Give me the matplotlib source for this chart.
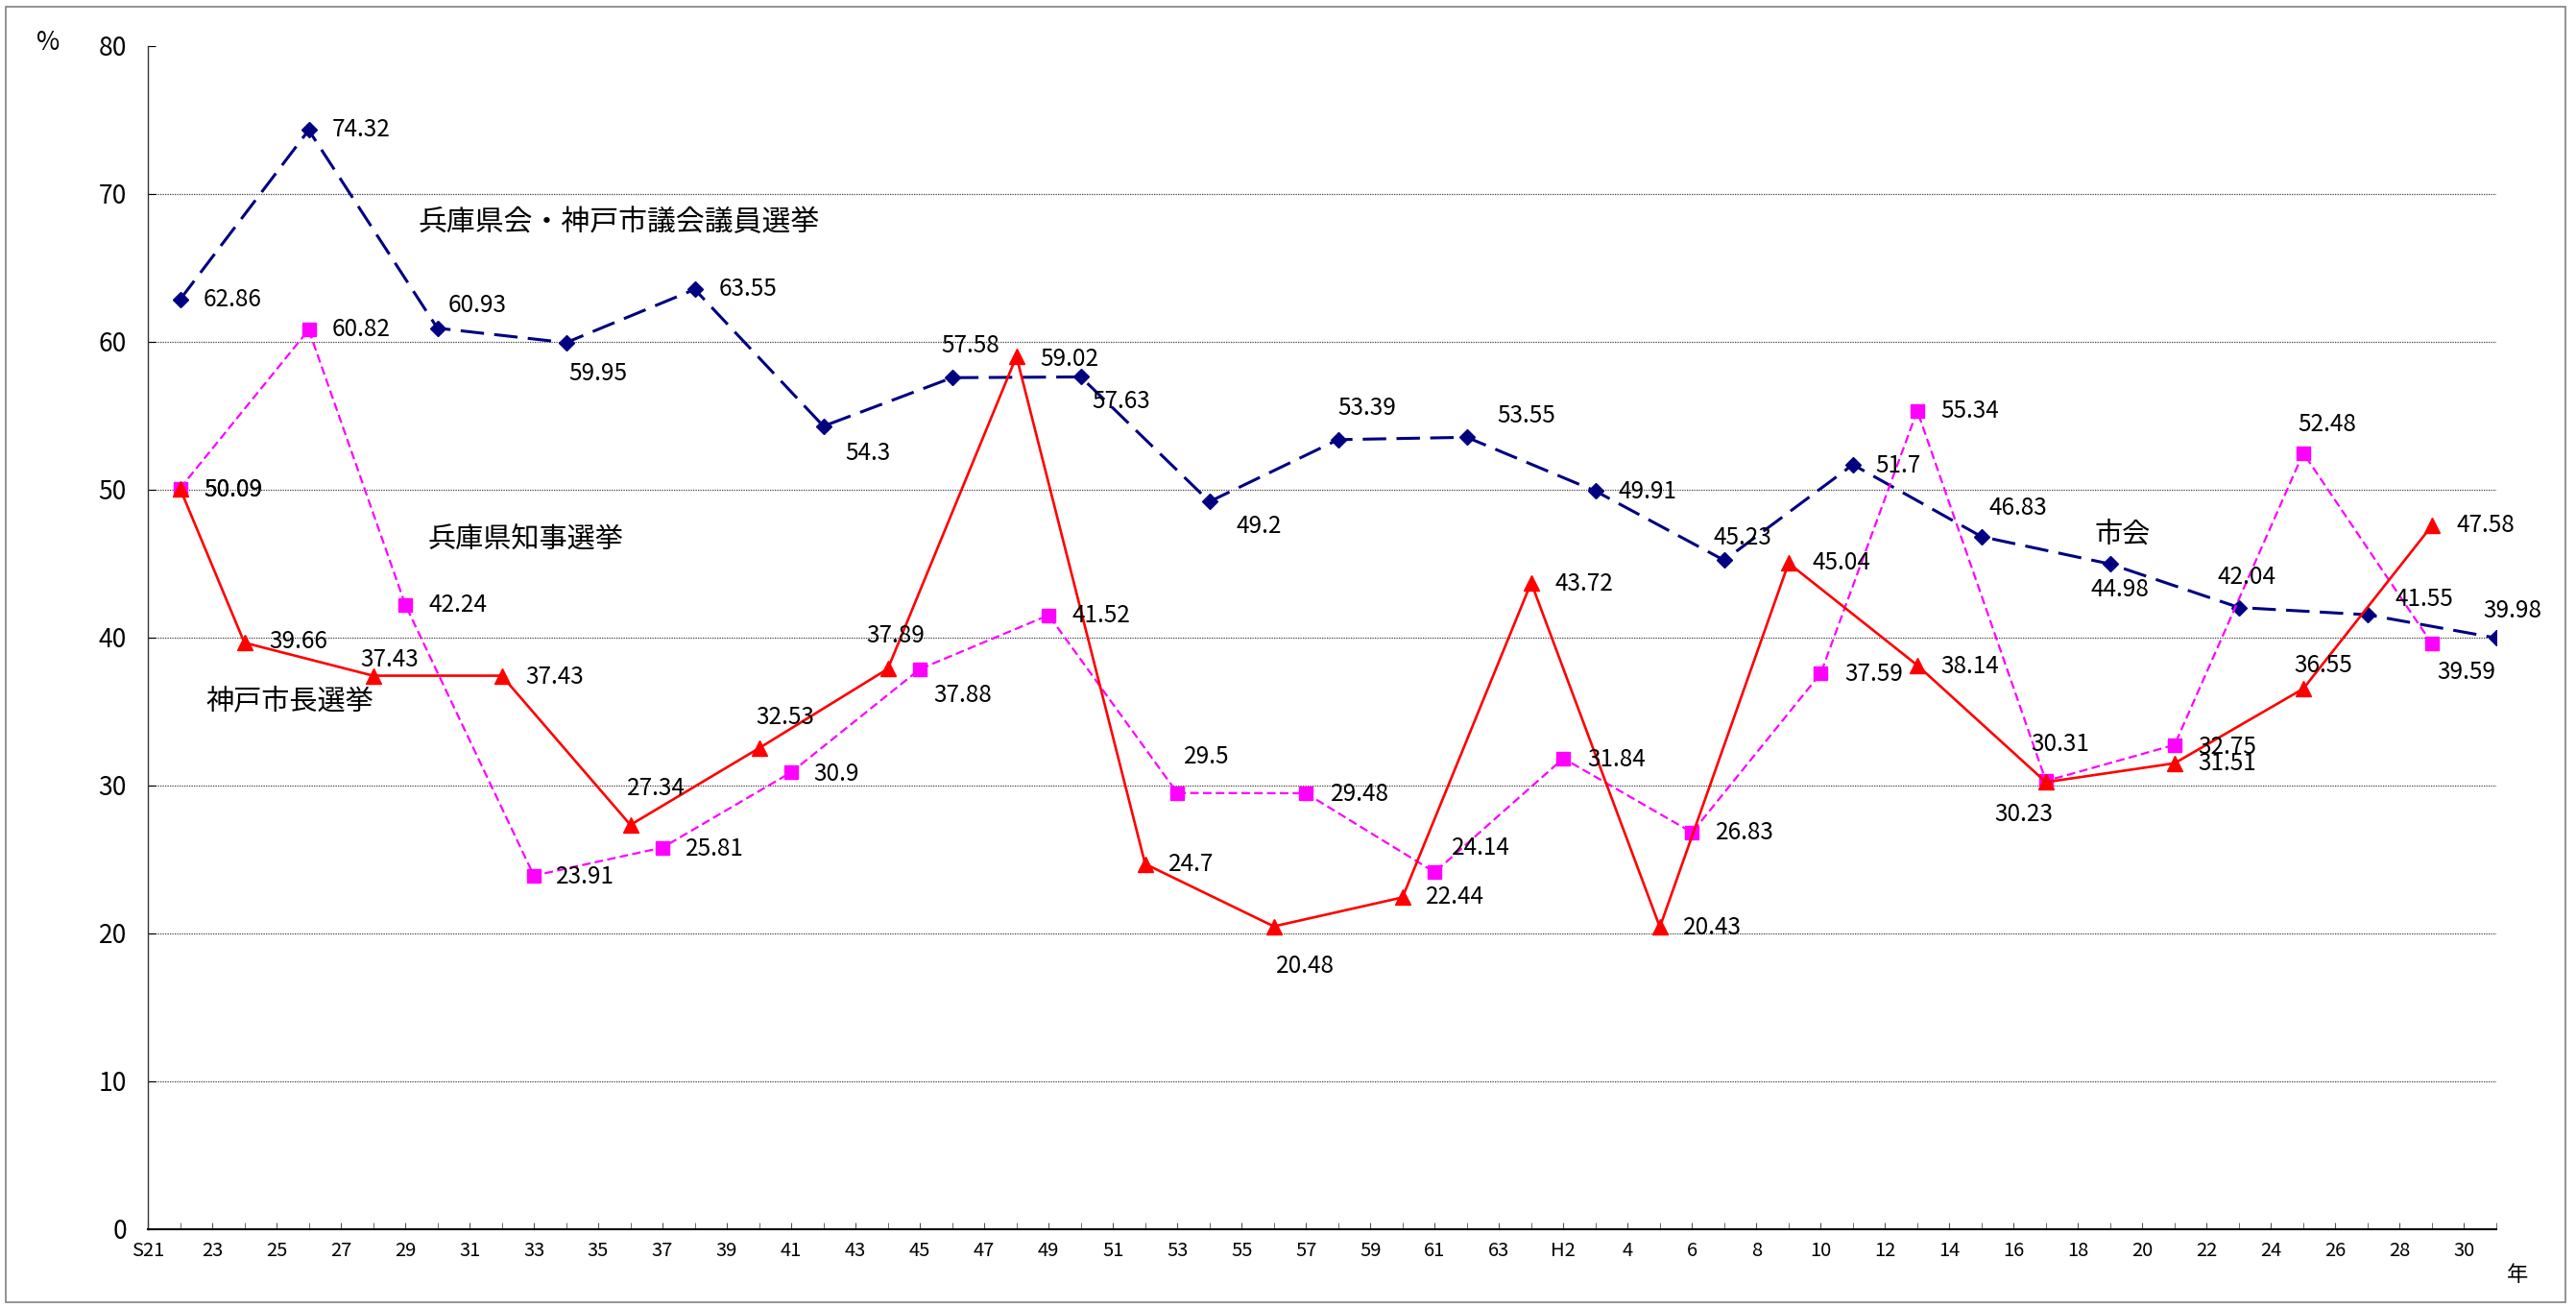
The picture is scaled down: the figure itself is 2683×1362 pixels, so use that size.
import matplotlib
matplotlib.use('Agg')
import matplotlib.pyplot as plt
from matplotlib.patches import Rectangle

plt.rcParams['font.family'] = ['Noto Sans CJK JP', 'DejaVu Sans']

# 兵庫県会・神戸市議会議員選挙 (市会)
kaigi_years = [1947, 1951, 1955, 1959, 1963, 1967, 1971, 1975, 1979, 1983,
               1987, 1991, 1995, 1999, 2003, 2007, 2011, 2015, 2019]
kaigi_vals = [62.86, 74.32, 60.93, 59.95, 63.55, 54.3, 57.58, 57.63, 49.2, 53.39,
              53.55, 49.91, 45.23, 51.7, 46.83, 44.98, 42.04, 41.55, 39.98]

# 兵庫県知事選挙
chiji_years = [1947, 1951, 1954, 1958, 1962, 1966, 1970, 1974, 1978, 1982,
               1986, 1990, 1994, 1998, 2001, 2005, 2009, 2013, 2017]
chiji_vals = [50.09, 60.82, 42.24, 23.91, 25.81, 30.9, 37.88, 41.52, 29.5, 29.48,
              24.14, 31.84, 26.83, 37.59, 55.34, 30.31, 32.75, 52.48, 39.59]

# 神戸市長選挙
shicho_years = [1947, 1949, 1953, 1957, 1961, 1965, 1969, 1973, 1977, 1981,
                1985, 1989, 1993, 1997, 2001, 2005, 2009, 2013, 2017]
shicho_vals = [50.09, 39.66, 37.43, 37.43, 27.34, 32.53, 37.89, 59.02, 24.7, 20.48,
               22.44, 43.72, 20.43, 45.04, 38.14, 30.23, 31.51, 36.55, 47.58]

tick_years = list(range(1946, 2019, 2))
tick_labels = ['S21', '23', '25', '27', '29', '31', '33', '35', '37', '39', '41',
               '43', '45', '47', '49', '51', '53', '55', '57', '59', '61', '63',
               'H2', '4', '6', '8', '10', '12', '14', '16', '18', '20', '22', '24',
               '26', '28', '30']
y_ticks = [0, 10, 20, 30, 40, 50, 60, 70, 80]

# where each value label sits relative to its point (pixels, right / down)
kaigi_off = [(55, 0), (55, 0), (42, -24), (33, 32), (55, 0), (46, 28), (19, -33),
             (42, 26), (52, 26), (30, -33), (62, -22), (54, 1), (19, -23), (47, 1),
             (38, -30), (10, 27), (8, -32), (59, -16), (17, -28)]
chiji_off = [(55, 1), (55, 0), (55, 0), (53, 1), (54, 1), (47, 2), (45, 27), (55, 0),
             (30, -38), (56, 1), (48, -25), (55, 1), (55, 0), (55, 1), (55, 0),
             (15, -38), (55, 2), (25, -30), (36, 30)]
shicho_off = [(55, 1), (56, -1), (17, -17), (55, 1), (27, -38), (27, -32), (8, -34),
              (55, 3), (48, 0), (33, 41), (55, 0), (55, 1), (55, 1), (55, 0), (55, 1),
              (-23, 34), (55, 0), (21, -24), (56, 0)]

W, H = 2683, 1362
fig = plt.figure(figsize=(W / 100, H / 100), dpi=100)
ax = fig.add_axes([154 / W, 1 - 1280 / H, (2600 - 154) / W, (1280 - 48) / H])

ax.hlines(y_ticks[1:-1], 1946, 2019, colors='#404040', linestyles=(0, (1, 1)),
          lw=0.9, zorder=1)

ax.plot(kaigi_years, kaigi_vals, color='#000080', lw=2.2, ls=(0, (8, 3.5)),
        marker='D', ms=8.2, mfc='#000080', mec='#000080', zorder=3)
ax.plot(chiji_years, chiji_vals, color='#FF00FF', lw=1.6, ls=(0, (4, 2)),
        marker='s', ms=10.5, mfc='#FF00FF', mec='#FF00FF', zorder=4)
ax.plot(shicho_years, shicho_vals, color='#FF0000', lw=1.9,
        marker='^', ms=11, mfc='#FF0000', mec='#FF0000', zorder=5)

for xs, vs, offs in [(kaigi_years, kaigi_vals, kaigi_off),
                     (chiji_years, chiji_vals, chiji_off),
                     (shicho_years, shicho_vals, shicho_off)]:
    for x, v, (dx, dy) in zip(xs, vs, offs):
        ax.annotate(f'{v:g}', (x, v), xytext=(dx * 0.72, -dy * 0.72),
                    textcoords='offset points', ha='center', va='center',
                    fontsize=17.5, zorder=6)

# series names
ax.text(1954.4, 68.1, '兵庫県会・神戸市議会議員選挙', fontsize=21.5, va='center')
ax.text(1954.7, 46.6, '兵庫県知事選挙', fontsize=21, va='center')
ax.text(1947.8, 35.7, '神戸市長選挙', fontsize=21, va='center')
ax.text(2006.5, 47.0, '市会', fontsize=21, va='center')

ax.set_xlim(1946, 2019)
ax.set_ylim(0, 80)
ax.set_xticks(range(1946, 2020), minor=True)
ax.set_xticks(tick_years)
ax.set_xticklabels(tick_labels)
ax.set_yticks(y_ticks)
ax.tick_params(axis='x', which='both', direction='in', length=5, color='#555555',
               labelsize=14.5, pad=9)
ax.tick_params(axis='y', direction='in', length=6, labelsize=19, pad=16)

ax.spines['top'].set_visible(False)
ax.spines['right'].set_visible(False)
ax.spines['left'].set_color('#333333')
ax.spines['left'].set_linewidth(1.0)
ax.spines['bottom'].set_linewidth(1.5)

fig.text(50 / W, 1 - 45 / H, '%', ha='center', va='center', fontsize=19)
fig.text(2622 / W, 1 - 1328 / H, '年', ha='center', va='center', fontsize=16)

fig.patches.append(Rectangle((6 / W, 1 - 1356 / H), (2672 - 6) / W, (1356 - 7) / H,
                             transform=fig.transFigure, fill=False,
                             ec='#808080', lw=1.2))

fig.savefig('out.png', dpi=100)
